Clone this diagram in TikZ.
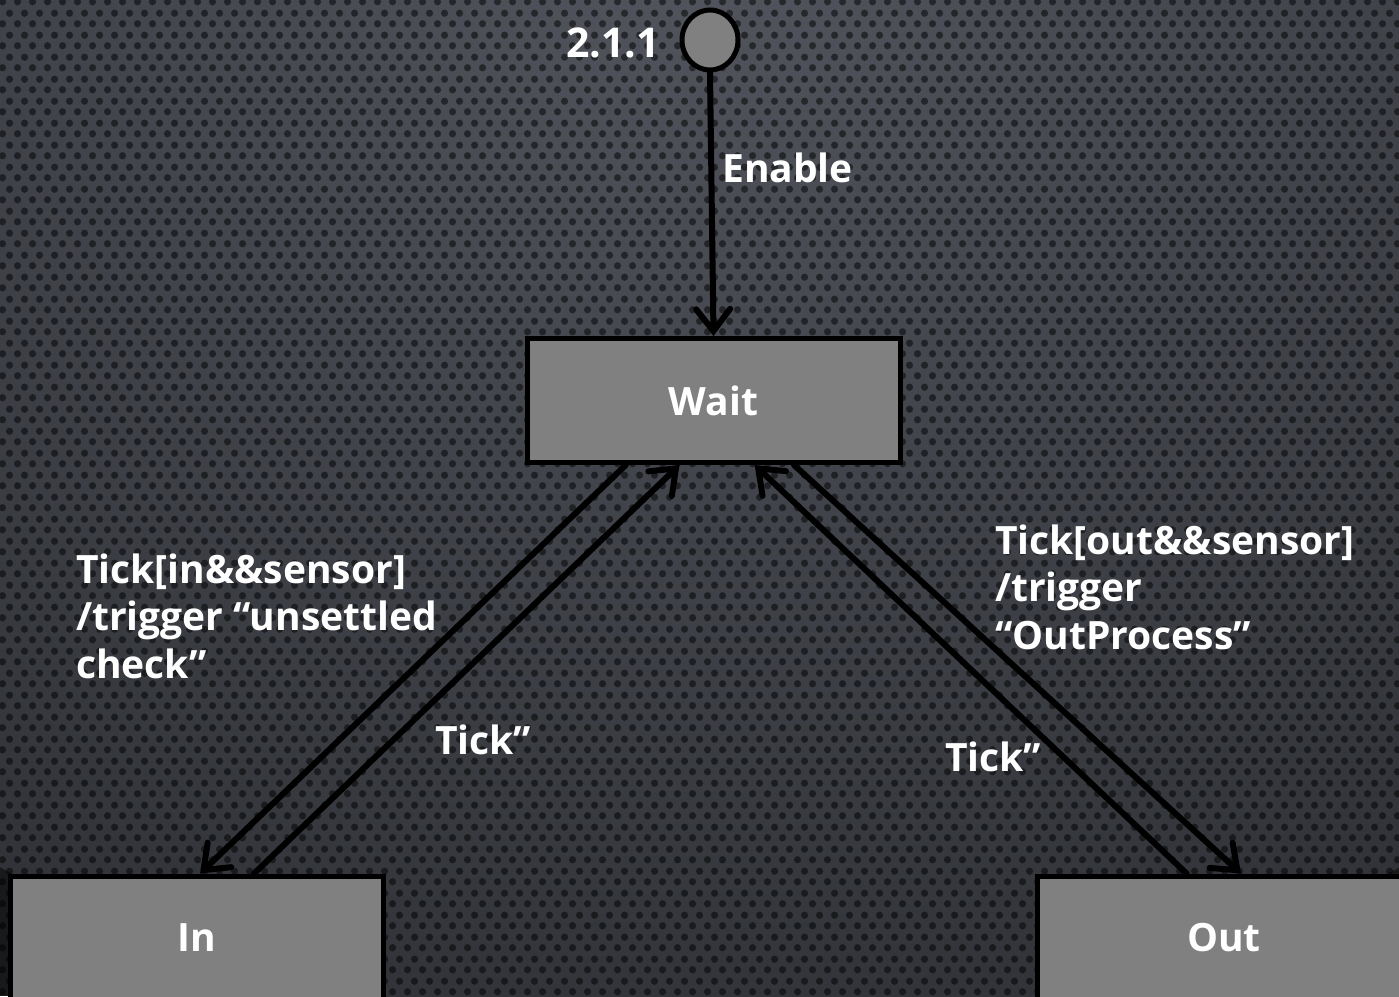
\documentclass[tikz,border=0pt]{standalone}
\usepackage{fontspec}
\setmainfont{Open Sans}
\usetikzlibrary{arrows.meta,calc,patterns.meta,shapes.geometric}
\definecolor{bgin}{HTML}{52555D}
\definecolor{bgmid}{HTML}{313338}
\definecolor{bgmid2}{HTML}{242529}
\definecolor{bgout}{HTML}{18191B}
\definecolor{boxgray}{HTML}{808080}
\pgfdeclareradialshading{bgshade}{\pgfpointorigin}{color(0bp)=(bgin); color(25bp)=(bgmid); color(35bp)=(bgmid2); color(50bp)=(bgout)}
\pgfdeclarepattern{name=bgdots, type=uncolored,
  bottom left={\pgfpoint{0pt}{0pt}}, top right={\pgfpoint{15pt}{22pt}},
  tile size={\pgfpoint{15pt}{22pt}},
  code={\pgfpathcircle{\pgfpoint{3.75pt}{5.5pt}}{3.8pt}\pgfpathcircle{\pgfpoint{11.25pt}{16.5pt}}{3.8pt}\pgfusepath{fill}}}
\tikzset{
  statebox/.style={draw=black, line width=5pt, fill=boxgray, minimum width=373pt, minimum height=124pt, inner sep=0pt, text=white, font=\fontsize{39}{47}\selectfont\bfseries},
  initnode/.style={draw=black, line width=5pt, fill=boxgray, ellipse, minimum width=56pt, minimum height=60pt, inner sep=0pt},
  lbl/.style={text=white, inner sep=0pt, font=\fontsize{39}{47.5}\selectfont\bfseries},
  trans/.style={draw=black, line width=6pt, -{Straight Barb[length=22pt,width=34pt,line cap=round]}, line cap=round}
}
\begin{document}
\begin{tikzpicture}[x=1pt,y=-1pt]
\useasboundingbox (0,0) rectangle (1399,996);
\begin{scope}
\clip (0,0) rectangle (1399,996);
\fill[bgout] (0,0) rectangle (1399,996);
\shade[shading=bgshade] (700,-60) ellipse [x radius=1300, y radius=1100];
\fill[pattern=bgdots, pattern color=black, opacity=0.5] (0,0) rectangle (1399,996);

\node[initnode] (init) at (710,40) {};
\node[lbl, anchor=base east, font=\fontsize{41}{47}\selectfont\bfseries] (initlbl) at (660,57) {2.1.1};
\node[statebox] (wait) at (713.5,400.5) {Wait};
\node[statebox] (in) at (197,938) {In};
\node[statebox] (out) at (1224,938) {Out};

\draw[trans] (init.south) -- (wait.north);
\node[lbl, anchor=base west] (enable) at (722,182) {Enable};

\draw[trans] ($(wait.south west)!0.268!(wait.south east)$) -- ($(in.north west)!0.508!(in.north east)$);
\draw[trans] ($(in.north west)!0.651!(in.north east)$) -- ($(wait.south west)!0.41!(wait.south east)$);
\draw[trans] ($(out.north west)!0.401!(out.north east)$) -- ($(wait.south west)!0.609!(wait.south east)$);
\draw[trans] ($(wait.south west)!0.713!(wait.south east)$) -- ($(out.north west)!0.545!(out.north east)$);

\node[lbl, anchor=base west, align=left] (inlbl) at (76,678) {Tick[in\&\&sensor]\\/trigger “unsettled\\check”};
\node[lbl, anchor=base west] (tickin) at (435,754) {Tick”};
\node[lbl, anchor=base west, align=left] (outlbl) at (995,649) {Tick[out\&\&sensor]\\/trigger\\“OutProcess”};
\node[lbl, anchor=base west] (tickout) at (945,771) {Tick”};
\end{scope}
\end{tikzpicture}
\end{document}
